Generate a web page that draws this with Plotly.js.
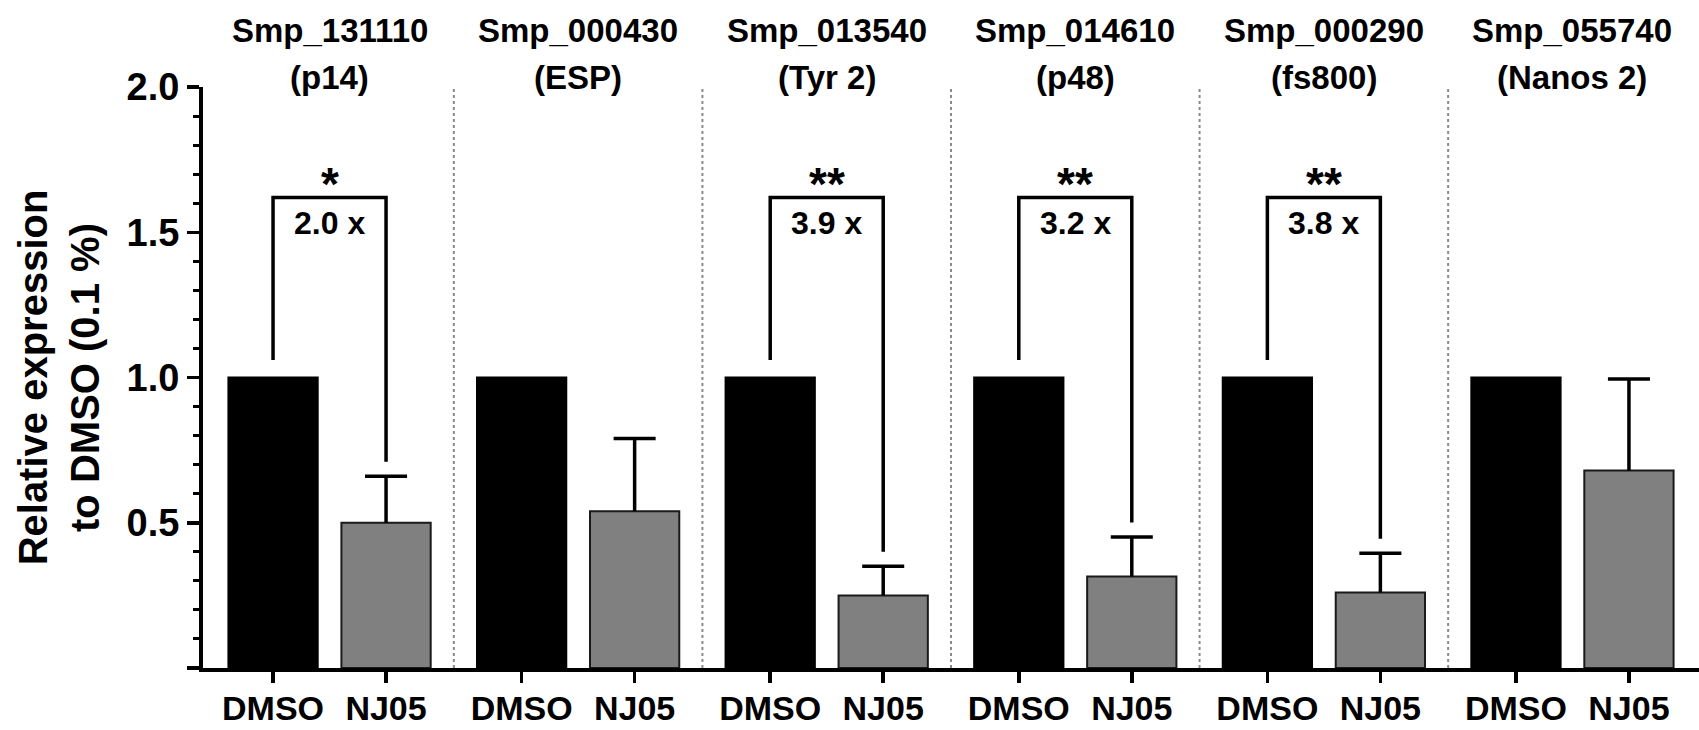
<!DOCTYPE html>
<html><head><meta charset="utf-8">
<script src="https://cdn.plot.ly/plotly-3.0.1.min.js"></script>
<style>html,body{margin:0;padding:0;background:#fff;}#chart{width:1699px;height:730px;}</style>
</head><body><div id="chart"></div>
<script>
// ---- data ----
const geneIds = ['Smp_131110','Smp_000430','Smp_013540','Smp_014610','Smp_000290','Smp_055740'];
const geneNames = ['(p14)','(ESP)','(Tyr 2)','(p48)','(fs800)','(Nanos 2)'];
const conditions = ['DMSO','NJ05'];
const dmsoValues = [1.0, 1.0, 1.0, 1.0, 1.0, 1.0];
const nj05Values = [0.50, 0.54, 0.25, 0.315, 0.26, 0.68];
const nj05Errors = [0.16, 0.25, 0.10, 0.136, 0.135, 0.315];
const significance = ['*', '', '**', '**', '**', ''];
const foldChange = ['2.0 x', '', '3.9 x', '3.2 x', '3.8 x', ''];

// ---- layout helpers ----
const FONT = 'Liberation Sans, Arial, Helvetica, sans-serif';
const GAP = 2.2;
const CAP = 0.186;
const xD = geneIds.map((_, i) => i * GAP);
const xN = geneIds.map((_, i) => i * GAP + 1);
const xC = geneIds.map((_, i) => i * GAP + 0.5);

const traces = [
  {type:'bar', x:xD, y:dmsoValues, width:0.79, name:conditions[0],
   marker:{color:'#000000', line:{color:'#000000', width:2}}, hoverinfo:'skip'},
  {type:'bar', x:xN, y:nj05Values, width:0.79, name:conditions[1],
   marker:{color:'#808080', line:{color:'#1a1a1a', width:2}}, hoverinfo:'skip'}
];

// upward-only error bars (GraphPad style: no cap at the bar top)
const ex = [], ey = [];
nj05Values.forEach((v, i) => {
  const top = v + nj05Errors[i];
  ex.push(xN[i], xN[i], null, xN[i] - CAP, xN[i] + CAP, null);
  ey.push(v, top, null, top, top, null);
});
traces.push({type:'scatter', mode:'lines', x:ex, y:ey, line:{color:'#000', width:3.5},
             hoverinfo:'skip', cliponaxis:false, showlegend:false});

// significance brackets
const bx = [], by = [];
const BR_TOP = 1.62;
geneIds.forEach((g, i) => {
  if (!significance[i]) return;
  bx.push(xD[i], xD[i], xN[i], xN[i], null);
  by.push(dmsoValues[i] + 0.06, BR_TOP, BR_TOP, nj05Values[i] + nj05Errors[i] + 0.05, null);
});
traces.push({type:'scatter', mode:'lines', x:bx, y:by, line:{color:'#000', width:3.5},
             hoverinfo:'skip', cliponaxis:false, showlegend:false});

const shapes = [];
for (let i = 0; i < geneIds.length - 1; i++) {
  shapes.push({type:'line', xref:'x', yref:'y', x0:i*GAP+1.6, x1:i*GAP+1.6, y0:0, y1:2.01,
               line:{color:'#8a8a8a', width:2, dash:'dot'}});
}

const annotations = [];
const H = 581, T = 87;
geneIds.forEach((g, i) => {
  annotations.push({xref:'x', yref:'paper', x:xC[i], y:1 + (T - 31)/H, text:g, showarrow:false,
    xanchor:'center', yanchor:'middle', font:{family:FONT, size:33, weight:'bold', color:'#000'}});
  annotations.push({xref:'x', yref:'paper', x:xC[i], y:1 + (T - 78)/H, text:geneNames[i], showarrow:false,
    xanchor:'center', yanchor:'middle', font:{family:FONT, size:33, weight:'bold', color:'#000'}});
  if (significance[i]) {
    annotations.push({xref:'x', yref:'paper', x:xC[i], y:1 + (T - 184)/H, text:significance[i], showarrow:false,
      xanchor:'center', yanchor:'middle', height:34, valign:'middle',
      font:{family:FONT, size:46, weight:'bold', color:'#000'}});
  }
  if (foldChange[i]) {
    annotations.push({xref:'x', yref:'paper', x:xC[i], y:1 + (T - 223)/H, text:foldChange[i], showarrow:false,
      xanchor:'center', yanchor:'middle', font:{family:FONT, size:32, weight:'bold', color:'#000'}});
  }
});

const layout = {
  width:1699, height:730,
  margin:{l:203, r:0, t:87, b:62},
  paper_bgcolor:'#fff', plot_bgcolor:'#fff',
  showlegend:false, barmode:'overlay', hovermode:false,
  font:{family:FONT, color:'#000'},
  xaxis:{range:[-0.62, 12.62], tickvals:xD.concat(xN),
         ticktext:xD.map(()=>conditions[0]).concat(xN.map(()=>conditions[1])),
         ticks:'outside', ticklen:11, tickwidth:3.5, tickcolor:'#000', ticklabelstandoff:-4,
         showline:true, linewidth:4, linecolor:'#000', showgrid:false, zeroline:false,
         tickfont:{family:FONT, size:34, weight:'bold', color:'#000'}, fixedrange:true},
  yaxis:{range:[0, 2], tickvals:[0, 0.5, 1.0, 1.5, 2.0], ticktext:['', '0.5', '1.0', '1.5', '2.0'],
         ticks:'outside', ticklen:12, tickwidth:3.5, tickcolor:'#000',
         minor:{dtick:0.1, ticks:'outside', ticklen:6, tickwidth:3, tickcolor:'#000', showgrid:false},
         showline:true, linewidth:4, linecolor:'#000', showgrid:false, zeroline:false,
         tickfont:{family:FONT, size:38, weight:'bold', color:'#000'},
         title:{text:'Relative expression<br>to DMSO (0.1 %)', standoff:16,
                font:{family:FONT, size:40, weight:'bold', color:'#000'}}, fixedrange:true},
  shapes:shapes, annotations:annotations
};

Plotly.newPlot('chart', traces, layout, {displayModeBar:false, staticPlot:true});
</script></body></html>
